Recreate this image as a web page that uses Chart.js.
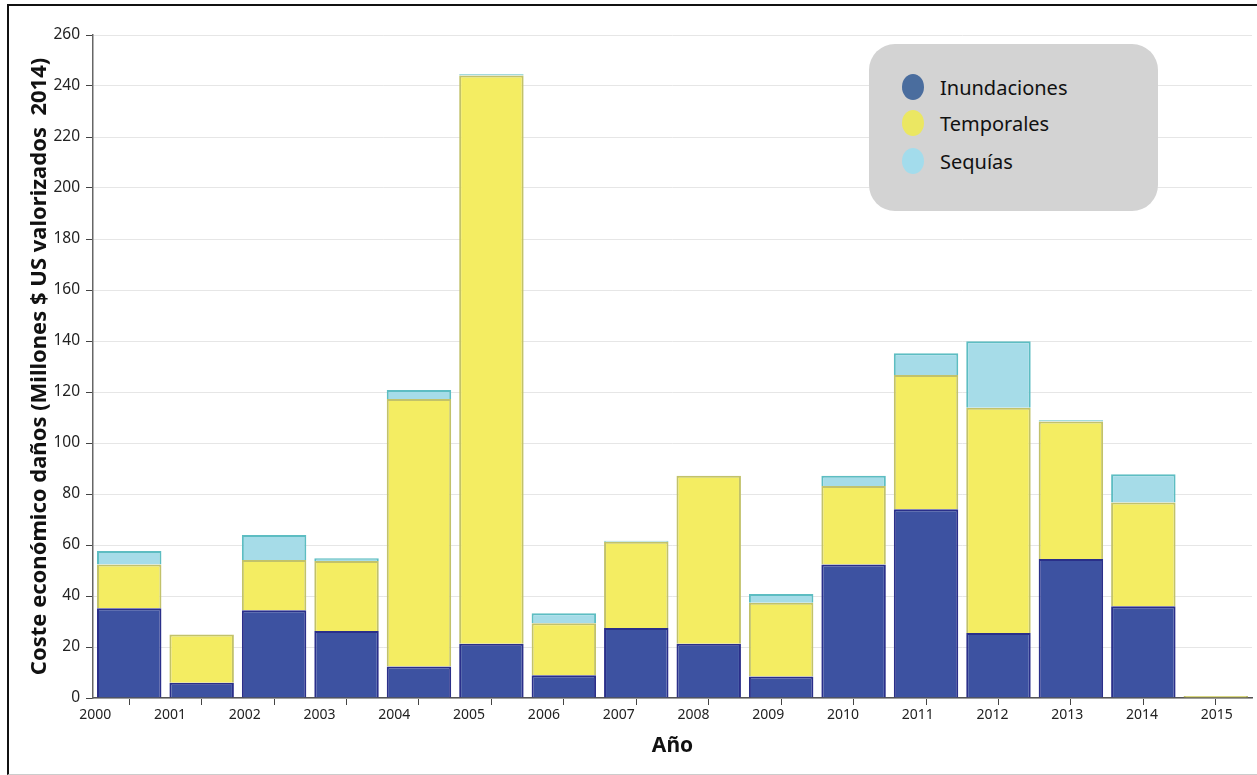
<!DOCTYPE html>
<html>
<head>
<meta charset="utf-8">
<script src="https://cdn.jsdelivr.net/npm/chart.js@4"></script>
<style>
  body { margin: 0; background: #fff; font-family: "Noto Sans", sans-serif; }
  #wrap { position: relative; width: 1257px; height: 775px; overflow: hidden; }
  #frame { position: absolute; left: 7px; top: 4px; width: 1260px; height: 768px;
           border-left: 2px solid #111; border-top: 2px solid #111; border-bottom: 1px solid #ccc; pointer-events: none; }
  #legend { position: absolute; left: 869px; top: 44px; width: 289px; height: 167px;
            background: #d3d3d3; border-radius: 26px; }
  .item { position: absolute; left: 33px; height: 28px; display: flex; align-items: center; }
  .dot { width: 22px; height: 26px; border-radius: 50%; margin-right: 16px; }
  .item span { font-size: 20px; color: #111; }
</style>
</head>
<body>
<div id="wrap">
  <canvas id="chart" width="1257" height="775"></canvas>
  <div id="frame"></div>
  <div id="legend"></div>
</div>
<script>
// data (millones $ US)
const years = ['2000','2001','2002','2003','2004','2005','2006','2007','2008','2009','2010','2011','2012','2013','2014','2015'];
const inundaciones = [35.2, 6.0, 34.4, 26.3, 12.4, 21.3, 8.9, 27.5, 21.3, 8.4, 52.4, 74.0, 25.5, 54.5, 36.0, 0];
const temporales = [17.2, 18.9, 19.7, 27.4, 104.9, 222.8, 20.4, 33.8, 65.9, 29.0, 30.7, 52.7, 88.3, 53.9, 40.7, 0.8];
const sequias = [5.2, 0, 9.8, 1.1, 3.5, 0.5, 3.9, 0.4, 0, 3.4, 4.1, 8.5, 26.1, 0.5, 11.0, 0];
const yTicks = [0, 20, 40, 60, 80, 100, 120, 140, 160, 180, 200, 220, 240, 260];

const series = [
  { label: 'Inundaciones', data: inundaciones, fill: '#3d52a1', border: '#2a2f8a', legend: '#4a6d9e' },
  { label: 'Temporales', data: temporales, fill: '#f4ed62', border: '#c2c26a', legend: '#ebe762' },
  { label: 'Sequías', data: sequias, fill: '#a6dce8', border: '#5dbdc2', legend: '#a3dcec' }
];

const tickFont = { family: 'Noto Sans', size: 14 };
const titleFont = { family: 'Noto Sans', size: 21, weight: 'bold' };

const chart = new Chart(document.getElementById('chart'), {
  type: 'bar',
  data: {
    labels: years,
    datasets: series.map(s => ({
      label: s.label,
      data: s.data,
      backgroundColor: s.fill,
      borderColor: s.border,
      borderWidth: 2,
      categoryPercentage: 0.89,
      barPercentage: 1
    }))
  },
  options: {
    responsive: false,
    animation: false,
    layout: { padding: { top: 35, right: 5, bottom: 12, left: 0 } },
    plugins: { legend: { display: false }, tooltip: { enabled: false } },
    scales: {
      x: {
        stacked: true,
        offset: true,
        weight: 0,
        grid: { display: true, drawOnChartArea: false, offset: false, tickLength: 7, tickColor: '#444' },
        border: { display: true, color: '#555', width: 1.5 },
        ticks: { display: false }
      },
      // year labels sit on their own scale, slightly wider spaced than the bars
      x2: {
        type: 'linear',
        position: 'bottom',
        offset: false,
        weight: 1,
        min: -0.03,
        max: 15.47,
        afterBuildTicks: s => { s.ticks = years.map((y, i) => ({ value: i })); },
        grid: { display: false, drawTicks: false, offset: false },
        border: { display: false },
        ticks: { font: tickFont, color: '#222', padding: 2, maxRotation: 0, autoSkip: false,
                 callback: v => years[v] },
        title: { display: true, text: 'Año', font: titleFont, color: '#111', padding: { top: 8, bottom: 4 } }
      },
      y: {
        stacked: true,
        min: 0,
        max: 260,
        afterBuildTicks: s => { s.ticks = yTicks.map(v => ({ value: v })); },
        afterFit: s => { s.width = 93; },
        grid: { color: '#e6e6e6', tickColor: '#444', tickLength: 7 },
        border: { display: true, color: '#666', width: 1.5 },
        ticks: { font: { family: 'Noto Sans', size: 15.5 }, color: '#222', padding: 6 },
        title: { display: true, text: 'Coste económico daños (Millones $ US valorizados  2014)',
                 font: { family: 'Noto Sans', size: 22, weight: 'bold' }, color: '#111', padding: { top: 27, bottom: 0 } }
      }
    }
  }
});

// legend box
const legend = document.getElementById('legend');
const rowTops = [29, 65, 103];
series.forEach((s, i) => {
  const row = document.createElement('div');
  row.className = 'item';
  row.style.top = rowTops[i] + 'px';
  row.innerHTML = '<div class="dot" style="background:' + s.legend + '"></div><span>' + s.label + '</span>';
  legend.appendChild(row);
});
</script>
</body>
</html>
